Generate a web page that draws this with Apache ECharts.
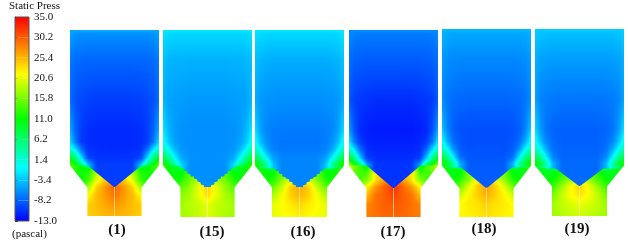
<!DOCTYPE html>
<html><head><meta charset="utf-8">
<style>html,body{margin:0;padding:0;background:#fff}#c{width:628px;height:247px}</style>
<script src="https://cdn.jsdelivr.net/npm/echarts@6/dist/echarts.min.js"></script>
</head><body><div id="c"></div>
<script>
// ---- DATA: static pressure (pascal) ----
const caseLabels = ['(1)', '(15)', '(16)', '(17)', '(18)', '(19)'];
const legendTicks = ['-13.0', '-8.2', '-3.4', '1.4', '6.2', '11.0', '15.8', '20.6', '25.4', '30.2', '35.0'];
const rangeStops = [-13, -0.5, 11, 21.5, 35];

// Sampling stations: half-width fraction from the centreline, depth below the chamber top.
const chamberCols = [0, 0.4, 0.6, 0.75, 0.88, 1];
const chamberDepths = [0, 4, 30, 70, 100, 112, 120, 128, 135, 158];
const hopperCols = [0, 0.2, 0.4, 0.6, 0.8, 1];
const hopperDepths = [135, 142, 150, 157, 165, 175, 190];

const chamber1 = [
  [-4.5,-4.5,-4.5,-4.5,-4.5,-4.5],
  [-6,-6,-6,-6,-5.8,-5],
  [-8,-8,-8,-7.9,-7.7,-7],
  [-10,-10,-9.8,-9.5,-9,-7.5],
  [-11,-11,-10.8,-10,-8,-4.5],
  [-11,-11,-10.8,-10,-7,-2],
  [-11,-10.8,-10.5,-7,-1,2],
  [-10.5,-10.5,-9.5,-1.5,6,10],
  [-10,-10,-3,6,11,15],
  [-10,-10,-9,-9,-9,-9]];
const hopper1 = [
  [21,21,19,6,12,15],
  [22.5,21.5,18,12,11.5,12],
  [25.5,24.5,20.5,13,11,11],
  [30,27,24,17,11,11],
  [29,27,25,21.5,21.5,21.5],
  [27,26,25,24,24,24],
  [25,25,24.5,24,24,24]];

const chamber15 = [
  [-1.5,-1.5,-1.5,-1.5,-1.5,-1.5],
  [-2.5,-2.5,-2.5,-2.5,-2.3,-2],
  [-4.3,-4.3,-4.2,-4.2,-4,-3.5],
  [-5.5,-5.5,-5.3,-5.2,-5,-4],
  [-6,-6,-5.8,-5.3,-4,-1.5],
  [-6,-6,-5.7,-5,-3,0.5],
  [-6,-6,-5.5,-3.5,0,3.5],
  [-6,-5.8,-4.5,0,5,9],
  [-6,-6,-2,5,9.5,13],
  [-6,-6,-5,-5,-5,-5]];
const hopper15 = [
  [14,14,13,6,10,13],
  [16,15,14.5,10,10.5,11],
  [20.5,18.5,15.5,12,11,11],
  [24,20.5,17,14.5,12,12],
  [23.5,20.5,18,16.5,16.5,16.5],
  [20.5,19,18.5,17.5,17.5,17.5],
  [20,19,18,17.5,17.5,17.5]];

const chamber16 = [
  [-1.5,-1.5,-1.5,-1.5,-1.5,-1.5],
  [-2.5,-2.5,-2.5,-2.5,-2.3,-2],
  [-4.5,-4.5,-4.5,-4.3,-4,-3.5],
  [-6,-6,-5.9,-5.8,-5.5,-4.5],
  [-7,-7,-6.8,-6.3,-5,-2],
  [-7.2,-7.2,-6.8,-5.8,-3.5,0.5],
  [-7,-7,-6.5,-4.5,-0.5,3.5],
  [-6.5,-6.5,-5,-0.5,4.5,8.5],
  [-6.5,-6.5,-3,5,9.5,13],
  [-6.5,-6.5,-6,-6,-6,-6]];
const hopper16 = [
  [14,14,13,7,11,14],
  [17.5,16.5,15,10,11,12],
  [22.5,20,16.5,12,11.5,11.5],
  [26,24,19,15,12,12],
  [25.5,24,21,18,18,18],
  [23.5,22.5,21.5,20.5,20.5,20.5],
  [22,21.5,21,20.5,20.5,20.5]];

const chamber17 = [
  [-6,-6,-6,-6,-6,-6],
  [-7,-7,-7,-7,-6.8,-6.3],
  [-8.5,-8.5,-8.5,-8.4,-8.2,-7.5],
  [-10.8,-10.8,-10.6,-10.3,-10,-8.5],
  [-11.8,-11.8,-11.5,-11,-9,-5],
  [-11.5,-11.5,-11.2,-10,-7,-1.5],
  [-11.2,-11.2,-10.8,-7.5,-1.5,3],
  [-10.8,-10.8,-10,-3,5,10],
  [-10.5,-10.5,-5,6,12,17],
  [-10.5,-10.5,-10,-10,-10,-10]];
const hopper17 = [
  [23,23,21,9,15,20],
  [27,25,23,13,14,16],
  [29,27,23,16,13,13],
  [32.5,30,27,22,13,13],
  [31.5,30,29,25,25,25],
  [30,30,29,28,28,28],
  [29.5,29.5,29,28.5,28.5,28.5]];

const chamber18 = [
  [-3.8,-3.8,-3.8,-3.8,-3.8,-3.8],
  [-4.8,-4.8,-4.8,-4.8,-4.6,-4.2],
  [-6.3,-6.3,-6.3,-6.2,-6,-5.3],
  [-8,-8,-7.9,-7.7,-7.3,-6],
  [-9.2,-9.2,-9,-8.3,-6.5,-3],
  [-9.2,-9.2,-8.8,-7.6,-4.5,0],
  [-9,-9,-8.5,-5.5,-0.5,3],
  [-8.8,-8.8,-7.5,-1,5,8],
  [-8.5,-8.5,-4,5,9.5,13],
  [-8.5,-8.5,-8,-8,-8,-8]];
const hopper18 = [
  [14,14,13,7,10,14],
  [19,18,15.5,10,10,12],
  [24,21,16.5,12,11,11],
  [26.5,24,20,15,12,12],
  [26,24,22,19,19,19],
  [24,23,22.5,21.5,21.5,21.5],
  [23,22.5,22,22,22,22]];

const chamber19 = [
  [-2.8,-2.8,-2.8,-2.8,-2.8,-2.8],
  [-3.6,-3.6,-3.6,-3.6,-3.4,-3],
  [-5.3,-5.3,-5.3,-5.2,-5,-4.3],
  [-7.2,-7.2,-7.1,-6.9,-6.5,-5],
  [-8.3,-8.3,-8,-7.3,-5.5,-2],
  [-8.3,-8.3,-7.8,-6.5,-3.5,0.5],
  [-8.2,-8.2,-7.5,-4.5,-0.5,3],
  [-8,-8,-6.5,-1,4.5,8],
  [-7.8,-7.8,-4,4,9,12],
  [-7.8,-7.8,-7,-7,-7,-7]];
const hopper19 = [
  [11,11,10,5,9,13],
  [15,14,12,9,10,11],
  [19,17,14,11,10,10],
  [24,21,17,13,11.5,11.5],
  [23,21.5,19,15.5,15.5,15.5],
  [20.5,20,19,17.5,17.5,17.5],
  [19,18.5,18,17.5,17.5,17.5]];

const chambers = [chamber1, chamber15, chamber16, chamber17, chamber18, chamber19];
const hoppers = [hopper1, hopper15, hopper16, hopper17, hopper18, hopper19];

// ---- LAYOUT ----
const PANEL_W = 89;
const panels = [
  {left: 70,  top: 30, depth: 186, outlet: 27,   wall: 135, corner: 135, cornerHW: 27,   vertex: 157, steps: 0},
  {left: 163, top: 30, depth: 187, outlet: 27,   wall: 135, corner: 135, cornerHW: 27,   vertex: 157, steps: 8},
  {left: 255, top: 30, depth: 187, outlet: 27.5, wall: 135, corner: 138, cornerHW: 24,   vertex: 157, steps: 7},
  {left: 349, top: 30, depth: 187, outlet: 27,   wall: 135, corner: 135, cornerHW: 27,   vertex: 158, steps: 0},
  {left: 442, top: 29, depth: 188, outlet: 27,   wall: 136, corner: 138, cornerHW: 25.5, vertex: 159, steps: 0},
  {left: 535, top: 29, depth: 187, outlet: 27.5, wall: 136, corner: 139, cornerHW: 24,   vertex: 157, steps: 0}
];
const labelPos = [[117, 223], [212, 225], [303, 225], [393, 225], [484, 222], [577, 222]];
const SERIF = '"Liberation Serif","Times New Roman",serif';

// ---- COLOUR: rainbow map used by the solver ----
const rampColors = [[0,0,255],[0,255,255],[0,255,0],[255,255,0],[255,0,0]];
function pressureColor(p) {
  let i = 0;
  while (i < rangeStops.length - 2 && p > rangeStops[i + 1]) i++;
  const t = Math.max(0, Math.min(1, (p - rangeStops[i]) / (rangeStops[i + 1] - rangeStops[i])));
  const a = rampColors[i], b = rampColors[i + 1];
  return 'rgb(' + a.map((v, k) => Math.round(v + (b[k] - v) * t)).join(',') + ')';
}
function shade(xs, ys, ta, tb, u) {
  let i = 0;
  while (i < xs.length - 2 && u > xs[i + 1]) i++;
  const t = (u - xs[i]) / (xs[i + 1] - xs[i]);
  return ta[i] + (ta[i + 1] - ta[i]) * t + ((tb[i] + (tb[i + 1] - tb[i]) * t) - (ta[i] + (ta[i + 1] - ta[i]) * t)) * ys;
}
function fieldGradient(cols, rowA, rowB, f, xl, xr) {
  const stops = [];
  const N = 24;
  for (let k = -N; k <= N; k++) {
    const u = k / N;
    stops.push({offset: (u + 1) / 2, color: pressureColor(shade(cols, f, rowA, rowB, Math.abs(u)))});
  }
  return new echarts.graphic.LinearGradient(xl, 0, xr, 0, stops, true);
}
function polyline(pts, d) {
  if (d <= pts[0][0]) return pts[0][1];
  for (let i = pts.length - 1; i > 0; i--) {
    const a = pts[i - 1], b = pts[i];
    if (d >= a[0] && d <= b[0]) {
      if (b[0] === a[0]) continue;
      return a[1] + (b[1] - a[1]) * (d - a[0]) / (b[0] - a[0]);
    }
  }
  return pts[pts.length - 1][1];
}
function hopperEdge(p) {
  return [[p.wall, PANEL_W / 2], [p.vertex, p.outlet], [p.depth, p.outlet]];
}
function chamberEdge(p) {
  const pts = [[0, PANEL_W / 2], [p.corner, PANEL_W / 2], [p.corner, p.cornerHW]];
  if (p.steps) {
    const n = p.steps;
    for (let k = 1; k <= n; k++) {
      const d = p.corner + (p.vertex - p.corner) * k / n;
      const hw = p.cornerHW * (1 - k / n);
      pts.push([d, p.cornerHW * (1 - (k - 1) / n)]);
      pts.push([d, hw]);
    }
  } else {
    pts.push([p.vertex, 0]);
  }
  return pts;
}
function stripRenderer(panel, cols, depths, table, edgeFn, endDepth, limitToHopper) {
  const edge = edgeFn(panel);
  const outer = hopperEdge(panel);
  function hw(d) {
    const h = polyline(edge, d);
    if (limitToHopper && d > panel.wall) return Math.min(h, polyline(outer, d));
    return h;
  }
  return function (params, api) {
    const i = params.dataIndex;
    if (i >= depths.length - 1) return null;
    const d0 = depths[i], d1 = Math.min(depths[i + 1], endDepth);
    if (d0 >= endDepth) return null;
    const xl = api.coord([-PANEL_W / 2, d0])[0];
    const xr = api.coord([PANEL_W / 2, d0])[0];
    const children = [];
    for (let d = d0; d < d1; d += 1) {
      const e = Math.min(d + 1, d1);
      const h0 = hw(d + 0.001), h1 = hw(e - 0.001);
      if (h0 <= 0 && h1 <= 0) continue;
      const yA = api.coord([0, d])[1];
      const yB = api.coord([0, e])[1] + (e < endDepth ? 0.5 : 0);
      const f = ((d + e) / 2 - depths[i]) / (depths[i + 1] - depths[i]);
      const a = api.coord([-h0, d])[0], b = api.coord([h0, d])[0];
      const c = api.coord([h1, e])[0], g = api.coord([-h1, e])[0];
      children.push({
        type: 'polygon',
        shape: {points: [[a, yA], [b, yA], [c, yB], [g, yB]]},
        style: {fill: fieldGradient(cols, table[i], table[i + 1], f, xl, xr), stroke: null}
      });
    }
    return {type: 'group', children};
  };
}

// ---- OPTION ----
const grids = [], xAxes = [], yAxes = [], series = [];
panels.forEach((p, idx) => {
  grids.push({left: p.left, top: p.top, width: PANEL_W, height: p.depth});
  xAxes.push({type: 'value', gridIndex: idx, min: -PANEL_W / 2, max: PANEL_W / 2, show: false});
  yAxes.push({type: 'value', gridIndex: idx, min: 0, max: p.depth, inverse: true, show: false});
  series.push({
    type: 'custom', xAxisIndex: idx, yAxisIndex: idx, clip: false, silent: true, animation: false,
    data: hopperDepths.map((d, i) => [0, d, hoppers[idx][i][0]]),
    renderItem: stripRenderer(p, hopperCols, hopperDepths, hoppers[idx], hopperEdge, p.depth, false)
  });
  series.push({
    type: 'custom', xAxisIndex: idx, yAxisIndex: idx, clip: false, silent: true, animation: false,
    data: chamberDepths.map((d, i) => [0, d, chambers[idx][i][0]]),
    renderItem: stripRenderer(p, chamberCols, chamberDepths, chambers[idx], chamberEdge, p.vertex, true)
  });
  // thin splitter plate on the outlet centreline
  series.push({
    type: 'custom', xAxisIndex: idx, yAxisIndex: idx, clip: false, silent: true, animation: false,
    data: [[0, p.vertex]],
    renderItem: function (params, api) {
      const a = api.coord([0, p.vertex]), b = api.coord([0, p.depth]);
      return {type: 'line', shape: {x1: a[0], y1: a[1], x2: b[0], y2: b[1]},
        style: {stroke: 'rgba(255,255,220,0.55)', lineWidth: 1}};
    }
  });
});

// colour bar
const L = panels.length;
grids.push({left: 15, top: 17, width: 14, height: 204});
xAxes.push({type: 'value', gridIndex: L, min: 0, max: 1, show: false});
yAxes.push({
  type: 'category', gridIndex: L, position: 'right', data: legendTicks, boundaryGap: false,
  axisLine: {show: true, lineStyle: {color: '#555', width: 1}},
  axisTick: {show: true, length: 3, inside: false, interval: 0, lineStyle: {color: '#333'}},
  axisLabel: {show: true, interval: 0, margin: 5, color: '#111', fontFamily: SERIF, fontSize: 11},
  splitLine: {show: false}
});
series.push({
  type: 'custom', xAxisIndex: L, yAxisIndex: L, clip: false, silent: true, animation: false,
  data: legendTicks.map((t, i) => [0, i, parseFloat(t)]),
  renderItem: function (params, api) {
    const i = params.dataIndex;
    if (i >= legendTicks.length - 1) return null;
    const a = api.coord([0, i]), b = api.coord([1, i + 1]);
    const v0 = parseFloat(legendTicks[i]), v1 = parseFloat(legendTicks[i + 1]);
    const stops = [];
    for (let k = 0; k <= 6; k++) {
      stops.push({offset: k / 6, color: pressureColor(v0 + (v1 - v0) * k / 6)});
    }
    return {
      type: 'rect',
      shape: {x: a[0], y: b[1], width: b[0] - a[0], height: a[1] - b[1]},
      style: {fill: new echarts.graphic.LinearGradient(0, a[1], 0, b[1], stops, true)}
    };
  }
});
series.push({
  type: 'custom', xAxisIndex: L, yAxisIndex: L, clip: false, silent: true, animation: false, z: 5,
  data: [[0, 0]],
  renderItem: function (params, api) {
    const a = api.coord([0, 0]), b = api.coord([1, legendTicks.length - 1]);
    return {type: 'rect', shape: {x: a[0], y: b[1], width: b[0] - a[0], height: a[1] - b[1]},
      style: {fill: 'none', stroke: '#555', lineWidth: 1}};
  }
});

const titles = caseLabels.map((text, i) => ({
  text, left: labelPos[i][0], top: labelPos[i][1], textAlign: 'center', padding: 0,
  textStyle: {fontFamily: SERIF, fontWeight: 'bold', fontSize: 15, color: '#111'}
}));
titles.push({text: 'Static Press', left: 9, top: 1, padding: 0,
  textStyle: {fontFamily: SERIF, fontWeight: 'normal', fontSize: 11, color: '#111'}});
titles.push({text: '(pascal)', left: 12, top: 229, padding: 0,
  textStyle: {fontFamily: SERIF, fontWeight: 'normal', fontSize: 11, color: '#111'}});

const chart = echarts.init(document.getElementById('c'), null, {renderer: 'canvas'});
chart.setOption({
  backgroundColor: '#ffffff', animation: false,
  title: titles, grid: grids, xAxis: xAxes, yAxis: yAxes, series
});
</script></body></html>
